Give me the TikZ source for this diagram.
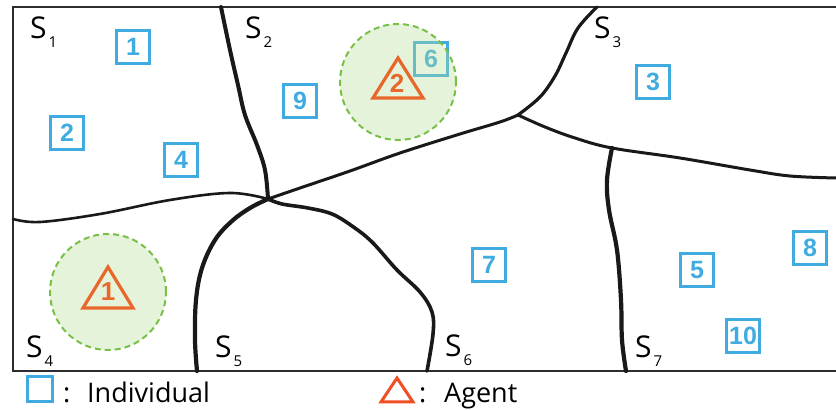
\documentclass[tikz,border=0pt]{standalone}
\usepackage{fontspec}
\setmainfont{Open Sans}
\newfontfamily\digfont{Liberation Sans}
\definecolor{boxblue}{RGB}{64,171,224}
\definecolor{agentor}{RGB}{232,104,44}
\definecolor{legred}{RGB}{240,78,35}
\definecolor{circgreen}{RGB}{120,192,70}
\definecolor{circfill}{RGB}{180,220,150}
\definecolor{linecol}{RGB}{25,25,25}
\definecolor{framecol}{RGB}{45,45,45}
\tikzset{
  indiv/.style={draw=boxblue, line width=3pt, minimum size=33pt, inner sep=0pt,
    text=boxblue, font=\digfont\bfseries\fontsize{25}{25}\selectfont},
  zone/.style={draw=circgreen, line width=2pt, dash pattern=on 6pt off 4pt,
    fill=circfill, fill opacity=0.35},
  agenttri/.style={draw=agentor, line width=3.2pt, line join=miter},
  agentnum/.style={text=agentor, font=\digfont\bfseries\fontsize{26}{26}\selectfont, inner sep=0pt},
  slabel/.style={anchor=base west, inner sep=0pt, font=\fontsize{30}{30}\selectfont},
  border/.style={draw=linecol, line width=4pt, line cap=round},
  thinborder/.style={draw=linecol, line width=2.6pt, line cap=round},
  legtext/.style={anchor=base west, inner sep=0pt, font=\fontsize{27}{27}\selectfont}
}
\newcommand{\sublab}[1]{\hspace{2pt}\raisebox{-9pt}{\fontsize{15}{15}\selectfont #1}}
\begin{document}
\begin{tikzpicture}[x=1pt,y=-1pt]
\useasboundingbox (0,0) rectangle (836,411);
% frame
\draw[framecol, line width=2.4pt] (836,7) -- (13,7) -- (13,371) -- (836,371);
% boundaries
\draw[border] plot[smooth, tension=0.6] coordinates {(221,7) (230,50) (238,85) (245,115) (257,145) (265,170) (268,199)};
\draw[thinborder] plot[smooth, tension=0.6] coordinates {(13,219) (40,222) (100,214) (170,200) (230,193) (268,199)};
\draw[thinborder, line width=3pt] plot[smooth, tension=0.6] coordinates {(268,199) (300,188) (350,171) (400,153) (460,134) (500,122) (518,115)};
\draw[thinborder, line width=3.2pt] plot[smooth, tension=0.6] coordinates {(518,115) (540,97) (555,76) (566,53) (578,28) (597,7)};
\draw[thinborder, line width=3pt] plot[smooth, tension=0.6] coordinates {(518,115) (545,127) (575,138) (612,148) (680,158) (750,170) (790,176) (836,178)};
\draw[border, line width=4.2pt] plot[smooth, tension=0.6] coordinates {(612,148) (607,180) (609,210) (617,250) (621,300) (622,340) (626,371)};
\draw[border, line width=4.2pt] plot[smooth, tension=0.6] coordinates {(268,199) (250,208) (232,221) (215,240) (202,268) (196,300) (195,340) (197,371)};
\draw[border, line width=3.6pt] plot[smooth, tension=0.6] coordinates {(268,199) (282,204) (308,208) (332,214) (352,226) (372,242) (397,270) (420,292) (432,312) (433,334) (427,371)};
% individuals
\node[indiv] (i1) at (133,47) {1};
\node[indiv] (i2) at (67,133) {2};
\node[indiv] (i4) at (181,160) {4};
\node[indiv] (i9) at (300,101) {9};
\node[indiv] (i6) at (431,59) {6};
\node[indiv] (i3) at (653,82) {3};
\node[indiv] (i7) at (489,265) {7};
\node[indiv] (i5) at (697,270) {5};
\node[indiv] (i8) at (810,248) {8};
\node[indiv] (i10) at (743,336) {10};
% agent zones
\draw[zone] (398,82) circle[radius=58pt];
\draw[zone] (108,292) circle[radius=58pt];
% agents
\draw[agenttri] (108,267) -- (133,308) -- (83,308) -- cycle;
\node[agentnum] (a1) at (108,292) {1};
\draw[agenttri] (398,58) -- (423,98) -- (373,98) -- cycle;
\node[agentnum] (a2) at (397,83) {2};
% region labels
\node[slabel] (s1) at (30,39) {S\sublab{1}};
\node[slabel] (s2) at (245,39) {S\sublab{2}};
\node[slabel] (s3) at (594,39) {S\sublab{3}};
\node[slabel] (s4) at (26,358) {S\sublab{4}};
\node[slabel] (s5) at (215,358) {S\sublab{5}};
\node[slabel] (s6) at (445,357) {S\sublab{6}};
\node[slabel] (s7) at (635,358) {S\sublab{7}};
% legend
\draw[boxblue, line width=3pt] (27,377) rectangle (52,402);
\node[legtext] (c1) at (63,403) {:};
\node[legtext] (l1) at (87,403) {Individual};
\draw[legred, line width=3pt, line join=miter] (397,378) -- (413,402) -- (381,402) -- cycle;
\node[legtext] (c2) at (419,403) {:};
\node[legtext] (l2) at (444,403) {Agent};
\end{tikzpicture}
\end{document}
